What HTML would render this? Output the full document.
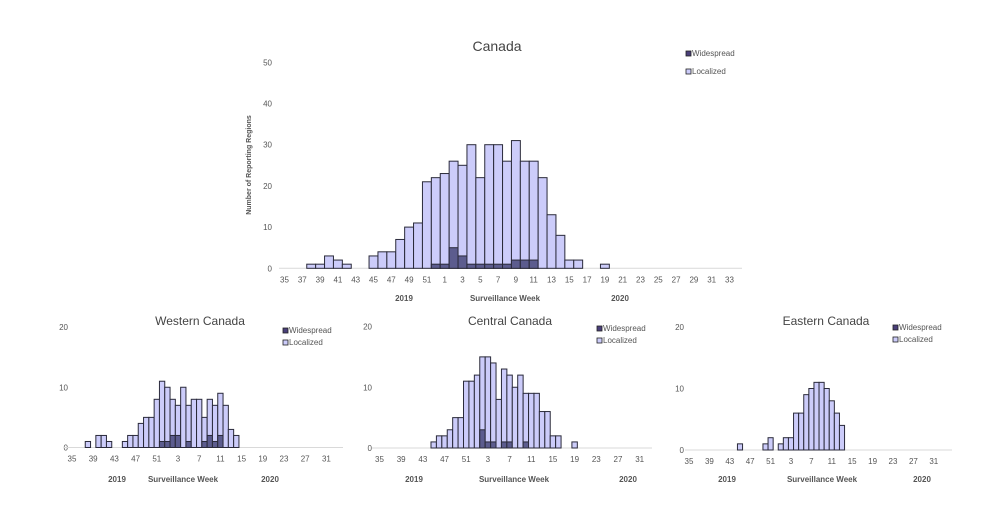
<!DOCTYPE html>
<html><head><meta charset="utf-8"><style>
html,body{margin:0;padding:0;background:#fff;width:1000px;height:520px;overflow:hidden}
svg{display:block;font-family:"Liberation Sans",sans-serif}
</style></head><body>
<svg id="chart" width="1000" height="520" viewBox="0 0 1000 520"></svg>
<script>
const weeks = [35,36,37,38,39,40,41,42,43,44,45,46,47,48,49,50,51,52,1,2,3,4,5,6,7,8,9,10,11,12,13,14,15,16,17,18,19,20,21,22,23,24,25,26,27,28,29,30,31,32,33,34];
// Totals (localized+widespread stacked top) and widespread values, indexed by weeks
const canadaTotal = [0,0,0,1,1,3,2,1,0,0,3,4,4,7,10,11,21,22,23,26,25,30,22,30,30,26,31,26,26,22,13,8,2,2,0,0,1,0,0,0,0,0,0,0,0,0,0,0,0,0,0,0];
const canadaWide  = [0,0,0,0,0,0,0,0,0,0,0,0,0,0,0,0,0,1,1,5,3,1,1,1,1,1,2,2,2,0,0,0,0,0,0,0,0,0,0,0,0,0,0,0,0,0,0,0,0,0,0,0];
const westTotal = [0,0,0,1,0,2,2,1,0,0,1,2,2,4,5,5,8,11,10,8,7,10,7,8,8,5,8,7,9,7,3,2,0,0,0,0,0,0,0,0,0,0,0,0,0,0,0,0,0,0,0,0];
const westWide  = [0,0,0,0,0,0,0,0,0,0,0,0,0,0,0,0,0,1,1,2,2,0,1,0,0,1,2,1,2,0,0,0,0,0,0,0,0,0,0,0,0,0,0,0,0,0,0,0,0,0,0,0];
const centTotal = [0,0,0,0,0,0,0,0,0,0,1,2,2,3,5,5,11,11,12,15,15,14,8,13,12,10,12,9,9,9,6,6,2,2,0,0,1,0,0,0,0,0,0,0,0,0,0,0,0,0,0,0];
const centWide  = [0,0,0,0,0,0,0,0,0,0,0,0,0,0,0,0,0,0,0,3,1,1,0,1,1,0,0,1,0,0,0,0,0,0,0,0,0,0,0,0,0,0,0,0,0,0,0,0,0,0,0,0];
const eastTotal = [0,0,0,0,0,0,0,0,0,0,1,0,0,0,0,1,2,0,1,2,2,6,6,9,10,11,11,10,8,6,4,0,0,0,0,0,0,0,0,0,0,0,0,0,0,0,0,0,0,0,0,0];
const eastWide  = [0,0,0,0,0,0,0,0,0,0,0,0,0,0,0,0,0,0,0,0,0,0,0,0,0,0,0,0,0,0,0,0,0,0,0,0,0,0,0,0,0,0,0,0,0,0,0,0,0,0,0,0];
const mainYTicks = [0,10,20,30,40,50];
const subYTicks = [0,10,20];

const NS='http://www.w3.org/2000/svg';
const svg=document.getElementById('chart');
function el(tag,attrs,parent,text){const e=document.createElementNS(NS,tag);for(const k in attrs)e.setAttribute(k,attrs[k]);if(text!==undefined)e.textContent=text;(parent||svg).appendChild(e);return e;}

function drawChart(cfg){
  const g=el('g',{});
  
  
  const xs=i=>cfg.x0+i*cfg.step;
  const ys=v=>cfg.y0-(v/cfg.ymax)*(cfg.y0-cfg.ytop);
  const t=el('text',{x:cfg.titleX,y:cfg.titleY,'text-anchor':'middle','font-size':cfg.titleSize,fill:'#444'},g,cfg.title);
  
  
  cfg.yTicks.forEach(v=>{
    const tl=el('text',{x:cfg.yLabelX,y:ys(v)+3,'text-anchor':'end','font-size':8,fill:'#555'},g,String(v));
    
    
  });
  const ax=el('line',{x1:cfg.axisX1,x2:cfg.axisX2,y1:cfg.y0,y2:cfg.y0,stroke:'#d9d9d9','stroke-width':1},g);
  
  
  weeks.forEach((w,i)=>{
    if(i%cfg.labelEvery===0){
      const tl=el('text',{x:xs(i),y:cfg.y0+cfg.labelDy,'text-anchor':'middle','font-size':8,fill:'#555'},g,String(w));
      
      
    }
  });
  const bw=cfg.step;
  weeks.forEach((w,i)=>{
    const tot=cfg.total[i], wd=cfg.wide[i];
    if(tot>0){
      const r=el('rect',{x:xs(i)-bw/2,y:ys(tot),width:bw,height:ys(0)-ys(tot),fill:'#ccccfa',stroke:'#2a2a3a','stroke-width':1},g);
      
      
    }
    if(wd>0){
      const r=el('rect',{x:xs(i)-bw/2,y:ys(wd),width:bw,height:ys(0)-ys(wd),fill:'#5c5c8e',stroke:'#2a2a3a','stroke-width':1},g);
      
      
    }
  });
  // legend
  const l1=el('g',{},g);
  
  
  el('rect',{x:cfg.legX,y:cfg.legY-5,width:5,height:5,fill:'#4a3f7a',stroke:'#222','stroke-width':0.8},l1);
  el('text',{x:cfg.legX+6,y:cfg.legY,'font-size':8,fill:'#555'},l1,'Widespread');
  const l2=el('g',{},g);
  
  
  el('rect',{x:cfg.legX,y:cfg.legY+cfg.legGap-5,width:5,height:5,fill:'#ccccfa',stroke:'#222','stroke-width':0.8},l2);
  el('text',{x:cfg.legX+6,y:cfg.legY+cfg.legGap,'font-size':8,fill:'#555'},l2,'Localized');
  // x titles
  const a=el('text',{x:cfg.y2019,y:cfg.xTitleY,'text-anchor':'middle','font-size':8,'font-weight':'bold',fill:'#555'},g,'2019');
  
  
  const b=el('text',{x:cfg.xTitleX,y:cfg.xTitleY,'text-anchor':'middle','font-size':8,'font-weight':'bold',fill:'#555'},g,'Surveillance Week');
  
  
  const c=el('text',{x:cfg.y2020,y:cfg.xTitleY,'text-anchor':'middle','font-size':8,'font-weight':'bold',fill:'#555'},g,'2020');
  
  
}

drawChart({name:'canada-chart',title:'Canada',titleX:497,titleY:51,titleSize:14,total:canadaTotal,wide:canadaWide,
  x0:284.5,step:8.9,y0:268.3,ytop:62.3,ymax:50,yTicks:mainYTicks,yLabelX:272,axisX1:279,axisX2:742,labelEvery:2,labelDy:14,
  legX:686,legY:56,legGap:18,y2019:404,y2020:620,xTitleX:505,xTitleY:301});
drawChart({name:'western-canada-chart',title:'Western Canada',titleX:200,titleY:325,titleSize:12,total:westTotal,wide:westWide,
  x0:72,step:5.3,y0:447.5,ytop:327,ymax:20,yTicks:subYTicks,yLabelX:68,axisX1:64,axisX2:343,labelEvery:4,labelDy:14,
  legX:283,legY:333,legGap:12,y2019:117,y2020:270,xTitleX:183,xTitleY:482});
drawChart({name:'central-canada-chart',title:'Central Canada',titleX:510,titleY:325,titleSize:12,total:centTotal,wide:centWide,
  x0:379.5,step:5.42,y0:448,ytop:326.5,ymax:20,yTicks:subYTicks,yLabelX:372,axisX1:372,axisX2:652,labelEvery:4,labelDy:14,
  legX:597,legY:331,legGap:12,y2019:414,y2020:628,xTitleX:514,xTitleY:482});
drawChart({name:'eastern-canada-chart',title:'Eastern Canada',titleX:826,titleY:325,titleSize:12,total:eastTotal,wide:eastWide,
  x0:689,step:5.1,y0:450,ytop:327,ymax:20,yTicks:subYTicks,yLabelX:684,axisX1:685,axisX2:952,labelEvery:4,labelDy:14,
  legX:893,legY:330,legGap:12,y2019:727,y2020:922,xTitleX:822,xTitleY:482});

const yt=el('text',{x:0,y:0,'text-anchor':'middle','font-size':7,'font-weight':'bold',fill:'#555',transform:'translate(251,165) rotate(-90)'},svg,'Number of Reporting Regions');


</script>
</body></html>
